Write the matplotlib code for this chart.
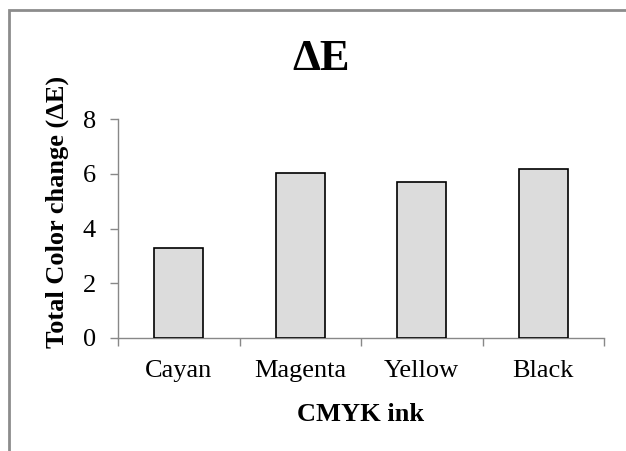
import numpy as np
import matplotlib
matplotlib.use("Agg")
import matplotlib.pyplot as plt
from matplotlib.patches import Rectangle

inks = ["Cayan", "Magenta", "Yellow", "Black"]
delta_e = [3.28, 6.03, 5.70, 6.17]
y_ticks = [0, 2, 4, 6, 8]

plt.rcParams["font.family"] = ["Liberation Serif", "DejaVu Serif"]

W, H = 626, 451
fig = plt.figure(figsize=(W / 100, H / 100), dpi=100)
ax = fig.add_axes([118 / W, 1 - 338 / H, (604 - 118) / W, (338 - 119) / H])

x = np.arange(len(inks))
ax.bar(x, delta_e, width=0.4, color="#dcdcdc", edgecolor="black", linewidth=1.2, zorder=3)

ax.set_xlim(-0.5, len(inks) - 0.5)
ax.set_ylim(0, 8)
ax.set_yticks(y_ticks)

# category boundaries get the tick marks, centres get the labels
ax.set_xticks(np.arange(len(inks) + 1) - 0.5)
ax.set_xticklabels([])
ax.set_xticks(x, minor=True)
ax.set_xticklabels(inks, minor=True)
ax.tick_params(axis="x", which="major", direction="out", length=6, width=1, color="#888888")
ax.tick_params(axis="x", which="minor", length=0, pad=16, labelsize=19)
ax.tick_params(axis="y", direction="out", length=6, width=1, color="#888888", pad=10, labelsize=19)

for side in ["top", "right"]:
    ax.spines[side].set_visible(False)
for side in ["left", "bottom"]:
    ax.spines[side].set_color("#888888")
    ax.spines[side].set_linewidth(1)

ax.set_ylabel("Total Color change (ΔE)", fontsize=19, fontweight="bold")
ax.yaxis.set_label_coords(-0.1, 0.575)
ax.set_xlabel("CMYK ink", fontsize=19, fontweight="bold", labelpad=15)

fig.text(321 / W, 1 - 59 / H, "ΔE", fontsize=32, fontweight="bold", ha="center", va="center")

# chart frame, running off the right and bottom edges
fig.patches.append(Rectangle((9 / W, -0.1), 1.2, 1.1 - 10 / H, transform=fig.transFigure,
                             fill=False, edgecolor="#8c8c8c", linewidth=2))

fig.savefig("out.png", dpi=100)
